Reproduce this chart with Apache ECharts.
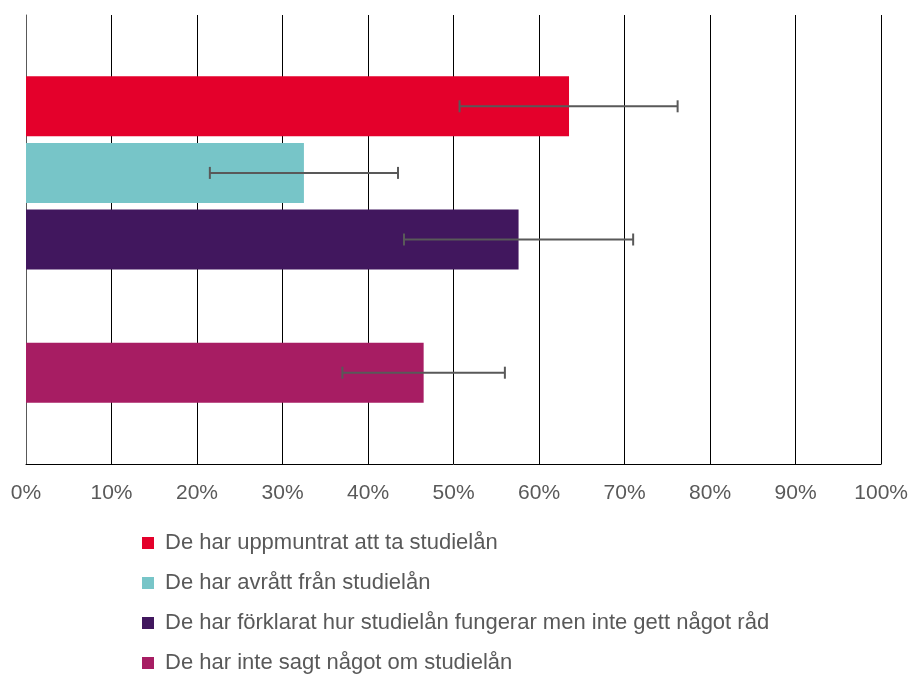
<!DOCTYPE html>
<html>
<head>
<meta charset="utf-8">
<script src="https://cdn.jsdelivr.net/npm/echarts@6/dist/echarts.min.js"></script>
<style>
  html, body { margin: 0; padding: 0; background: #fff; }
  #chart { width: 911px; height: 675px; }
</style>
</head>
<body>
<div id="chart"></div>
<script>
// one category, bars listed top to bottom (4th slot is empty in the original)
const barNames = [
  "De har uppmuntrat att ta studielån",
  "De har avrått från studielån",
  "De har förklarat hur studielån fungerar men inte gett något råd",
  "",
  "De har inte sagt något om studielån"
];
const barValues = [63.5, 32.5, 57.6, null, 46.5];
const errLow = [50.7, 21.5, 44.2, null, 37.0];
const errHigh = [76.2, 43.5, 71.0, null, 56.0];
const barColors = ["#E4002B", "#77C5C8", "#41175E", "#999999", "#A71D63"];
const xTicks = [0, 10, 20, 30, 40, 50, 60, 70, 80, 90, 100];

const BAR_W = 60;
const GAP = 0.11;
const textColor = "#595959";

let chart = echarts.init(document.getElementById("chart"));

let errData = [];
barValues.forEach((v, i) => {
  if (v != null) errData.push([errLow[i], errHigh[i], 0, i]);
});

let series = barNames.map((name, i) => ({
  name: name,
  type: "bar",
  data: [barValues[i]],
  barWidth: BAR_W,
  barGap: GAP * 100 + "%",
  itemStyle: { color: barColors[i] },
  z: 2
}));

series.push({
  type: "custom",
  z: 5,
  encode: { x: [0, 1], y: 2 },
  data: errData,
  renderItem: function (params, api) {
    const cy = api.coord([0, 0])[1];
    const n = barNames.length;
    const total = n * BAR_W + (n - 1) * BAR_W * GAP;
    const y = cy - total / 2 + api.value(3) * BAR_W * (1 + GAP) + BAR_W / 2;
    const x1 = api.coord([api.value(0), 0])[0];
    const x2 = api.coord([api.value(1), 0])[0];
    const st = { stroke: "#595959", lineWidth: 2 };
    return {
      type: "group",
      children: [
        { type: "line", shape: { x1: x1, y1: y, x2: x2, y2: y }, style: st },
        { type: "line", shape: { x1: x1, y1: y - 6, x2: x1, y2: y + 6 }, style: st },
        { type: "line", shape: { x1: x2, y1: y - 6, x2: x2, y2: y + 6 }, style: st }
      ]
    };
  }
});

let option = {
  animation: false,
  grid: { left: 26, right: 29, top: 15, bottom: 211, containLabel: false },
  xAxis: {
    type: "value",
    min: xTicks[0],
    max: xTicks[xTicks.length - 1],
    interval: 10,
    axisLine: { show: true, lineStyle: { color: "#000", width: 1 } },
    axisTick: { show: false },
    splitLine: { show: true, lineStyle: { color: "#000", width: 1 } },
    axisLabel: {
      formatter: "{value}%",
      color: textColor,
      fontSize: 21,
      fontFamily: "Liberation Sans",
      margin: 19
    }
  },
  yAxis: {
    type: "category",
    data: ["A"],
    axisLine: { show: true, lineStyle: { color: "#595959", width: 1 } },
    axisTick: { show: false },
    axisLabel: { show: false }
  },
  legend: {
    orient: "vertical",
    left: 137,
    top: 527,
    height: 220,
    itemWidth: 12,
    itemHeight: 12,
    itemGap: 18,
    icon: "rect",
    data: barNames.filter((n) => n !== ""),
    textStyle: {
      color: textColor,
      fontSize: 22,
      fontFamily: "Liberation Sans",
      padding: [0, 0, 0, 6]
    }
  },
  series: series
};

chart.setOption(option);
</script>
</body>
</html>
